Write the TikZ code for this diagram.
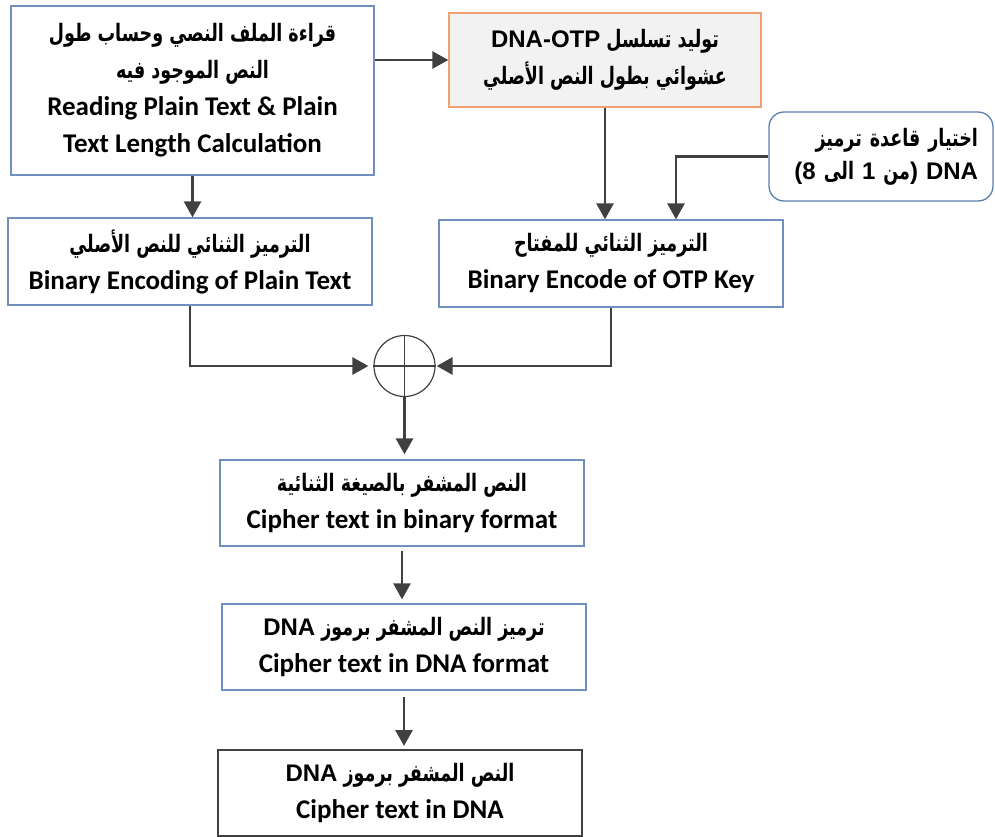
\documentclass[tikz,border=0pt]{standalone}
\usepackage{fontspec}
\setmainfont{Carlito}
\newfontfamily\arfont[Script=Arabic, FakeStretch=0.73]{DejaVu Sans}
\newfontfamily\lsans{Liberation Sans}
\TeXXeTstate=1
\usetikzlibrary{arrows.meta}
\definecolor{boxblue}{HTML}{7090C0}
\definecolor{rbblue}{HTML}{5B80B0}
\definecolor{orbd}{HTML}{F2A070}
\definecolor{orfill}{HTML}{F2F2F2}
\definecolor{arrgray}{HTML}{404040}
\newcommand\AR[1]{{\arfont\bfseries\fontsize{24}{37}\selectfont\beginR #1\endR}}
\newcommand\LA[1]{\beginL{\lsans\bfseries #1}\endL}
\tikzset{
  box/.style={draw=boxblue, line width=1.3pt, fill=white, align=center, inner sep=2pt,
    font=\fontsize{27}{37}\selectfont\bfseries},
  obox/.style={box, draw=orbd, fill=orfill},
  rbox/.style={draw=rbblue, line width=1.3pt, fill=white, rounded corners=15pt, align=right,
    text width=194pt, inner sep=2pt, font=\fontsize{24}{33}\selectfont},
  fbox/.style={box, draw=arrgray, line width=2pt},
  arr/.style={draw=arrgray, line width=2.8pt, -{Triangle[width=17pt,length=16pt]}},
  xorc/.style={circle, draw=arrgray, line width=1.2pt, minimum size=61pt, inner sep=0pt},
}
\begin{document}
\begin{tikzpicture}[x=1pt,y=-1pt]
\useasboundingbox (0,0) rectangle (995,837);
\node[box, minimum width=363pt, minimum height=169pt] (b1) at (192.5,90.5)
  {\AR{قراءة الملف النصي وحساب طول}\\\AR{النص الموجود فيه}\\Reading Plain Text \& Plain\\Text Length Calculation};
\node[obox, minimum width=312pt, minimum height=94pt] (ot) at (605,60)
  {\AR{توليد تسلسل \LA{DNA-OTP}}\\\AR{عشوائي بطول النص الأصلي}};
\node[rbox, minimum width=224pt, minimum height=89pt] (rb) at (881,156.5)
  {\AR{اختيار قاعدة ترميز}\\\AR{\LA{DNA} \LA{)}من \LA{1} الى \LA{(8}}};
\node[box, minimum width=364pt, minimum height=87pt] (b2) at (190,261.5)
  {\AR{الترميز الثنائي للنص الأصلي}\\Binary Encoding of Plain Text};
\node[box, minimum width=344pt, minimum height=87pt] (key) at (611,263.5)
  {\AR{الترميز الثنائي للمفتاح}\\Binary Encode of OTP Key};
\node[xorc] (xor) at (404.5,366) {};
\draw[arrgray, line width=1.2pt] (xor.north) -- (xor.south) (xor.west) -- (xor.east);
\node[box, minimum width=364pt, minimum height=86pt] (c1) at (402,503)
  {\AR{النص المشفر بالصيغة الثنائية}\\Cipher text in binary format};
\node[box, minimum width=364pt, minimum height=86pt] (c2) at (404,647)
  {\AR{ترميز النص المشفر برموز \LA{DNA}}\\Cipher text in DNA format};
\node[fbox, minimum width=364pt, minimum height=86pt] (c3) at (400,793)
  {\AR{النص المشفر برموز \LA{DNA}}\\Cipher text in DNA};
% connectors
\draw[arr] (b1.east |- ot.west) -- (ot.west);
\draw[arr] (b1.south) -- (b1.south |- b2.north);
\draw[arr] (ot.south) -- (ot.south |- key.north);
\draw[arr] (rb.west) -| ([xshift=65pt]key.north);
\draw[arr, shorten >=5pt] (b2.south) |- (xor.west);
\draw[arr, shorten >=1pt] (key.south) |- (xor.east);
\draw[arr, shorten >=5pt] (xor.south) -- (xor.south |- c1.north);
\draw[arr, shorten <=4pt, shorten >=4pt] (c1.south) -- (c1.south |- c2.north);
\draw[arr, shorten <=6pt, shorten >=3pt] (c2.south) -- (c2.south |- c3.north);
\end{tikzpicture}
\end{document}
